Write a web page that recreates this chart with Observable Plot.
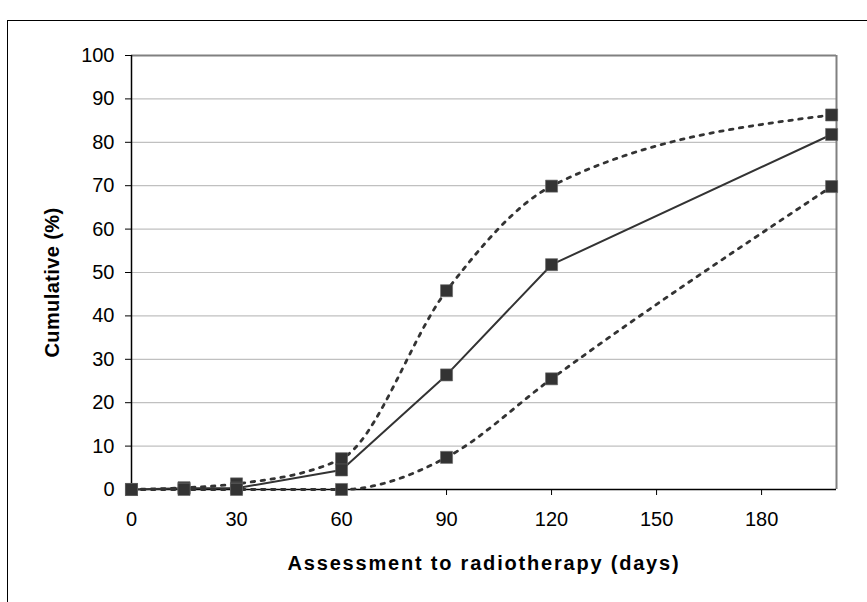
<!DOCTYPE html>
<html>
<head>
<meta charset="utf-8">
<script src="https://cdn.jsdelivr.net/npm/d3@7"></script>
<script src="https://cdn.jsdelivr.net/npm/@observablehq/plot@0.6"></script>
<style>
  html, body { margin: 0; padding: 0; background: #fff; }
  #wrap { position: relative; width: 867px; height: 602px; overflow: hidden; }
  #border { position: absolute; left: 7px; top: 20px; width: 900px; height: 700px;
            border-left: 1.5px solid #000; border-top: 1.5px solid #000; box-sizing: border-box; }
  #chart { position: absolute; left: 0; top: 0; }
  #chart svg text { font-size: 20px; }
</style>
</head>
<body>
<div id="wrap"><div id="border"></div><div id="chart"></div></div>
<script>
const days = [0, 15, 30, 60, 90, 120, 200];
const upper = [0, 0.4, 1.3, 7.1, 45.8, 69.9, 86.3];
const median = [0, 0.3, 0.3, 4.5, 26.4, 51.8, 81.8];
const lower = [0, 0, 0, 0, 7.4, 25.5, 69.8];
const xTicks = [0, 30, 60, 90, 120, 150, 180];
const yTicks = [0, 10, 20, 30, 40, 50, 60, 70, 80, 90, 100];
const xTitle = "Assessment to radiotherapy (days)";
const yTitle = "Cumulative (%)";
const xMax = 201.4;

const toRows = (vals) => days.map((d, i) => ({day: d, pct: vals[i]}));
const up = toRows(upper), med = toRows(median), lo = toRows(lower);
const all = [...up, ...med, ...lo];

const ink = "#333333";
const chart = Plot.plot({
  width: 867,
  height: 602,
  marginLeft: 131,
  marginRight: 31,
  marginTop: 55,
  marginBottom: 113,
  style: {fontFamily: "'Liberation Sans', Arial, sans-serif", fontSize: "20px", color: "#000", background: "transparent", overflow: "visible"},
  x: {domain: [0, xMax], ticks: xTicks, label: null},
  y: {domain: [0, 100], ticks: yTicks, label: null},
  marks: [
    Plot.gridY(yTicks.filter(t => t > 0 && t < 100), {stroke: "#c0c0c0", strokeOpacity: 1, strokeWidth: 1.2}),
    Plot.ruleY([100], {stroke: "#808080", strokeWidth: 2}),
    Plot.ruleX([xMax], {stroke: "#808080", strokeWidth: 2}),
    Plot.axisX({ticks: xTicks, tickSize: 6, tickPadding: 16, fontSize: 20, label: null}),
    Plot.axisY({ticks: yTicks, tickSize: 6, tickPadding: 11, fontSize: 20, label: null}),
    Plot.ruleX([0], {stroke: "#000", strokeWidth: 1.5}),
    Plot.ruleY([0], {stroke: "#000", strokeWidth: 1.5}),
    Plot.line(up, {x: "day", y: "pct", stroke: ink, strokeWidth: 2.8, strokeDasharray: "3.5,6.5", curve: "monotone-x"}),
    Plot.line(lo, {x: "day", y: "pct", stroke: ink, strokeWidth: 2.8, strokeDasharray: "3.5,6.5", curve: "monotone-x"}),
    Plot.line(med, {x: "day", y: "pct", stroke: ink, strokeWidth: 2}),
    Plot.dot(all, {x: "day", y: "pct", symbol: "square", r: 6.8, fill: ink, stroke: "#666", strokeWidth: 0.6}),
    Plot.text([xTitle], {frameAnchor: "bottom", dy: 80, textAnchor: "middle", fontWeight: "bold", fontSize: 20, fill: "#000"}),
    Plot.text([yTitle], {frameAnchor: "left", dx: -79, dy: 10, textAnchor: "middle", rotate: -90, fontWeight: "bold", fontSize: 20, fill: "#000"})
  ]
});
d3.select(chart).selectAll("text").each(function() {
  const t = this.textContent;
  if (t === xTitle) this.style.letterSpacing = "1.8px";
  if (t === yTitle) this.style.letterSpacing = "0.4px";
});
document.getElementById("chart").appendChild(chart);
</script>
</body>
</html>
